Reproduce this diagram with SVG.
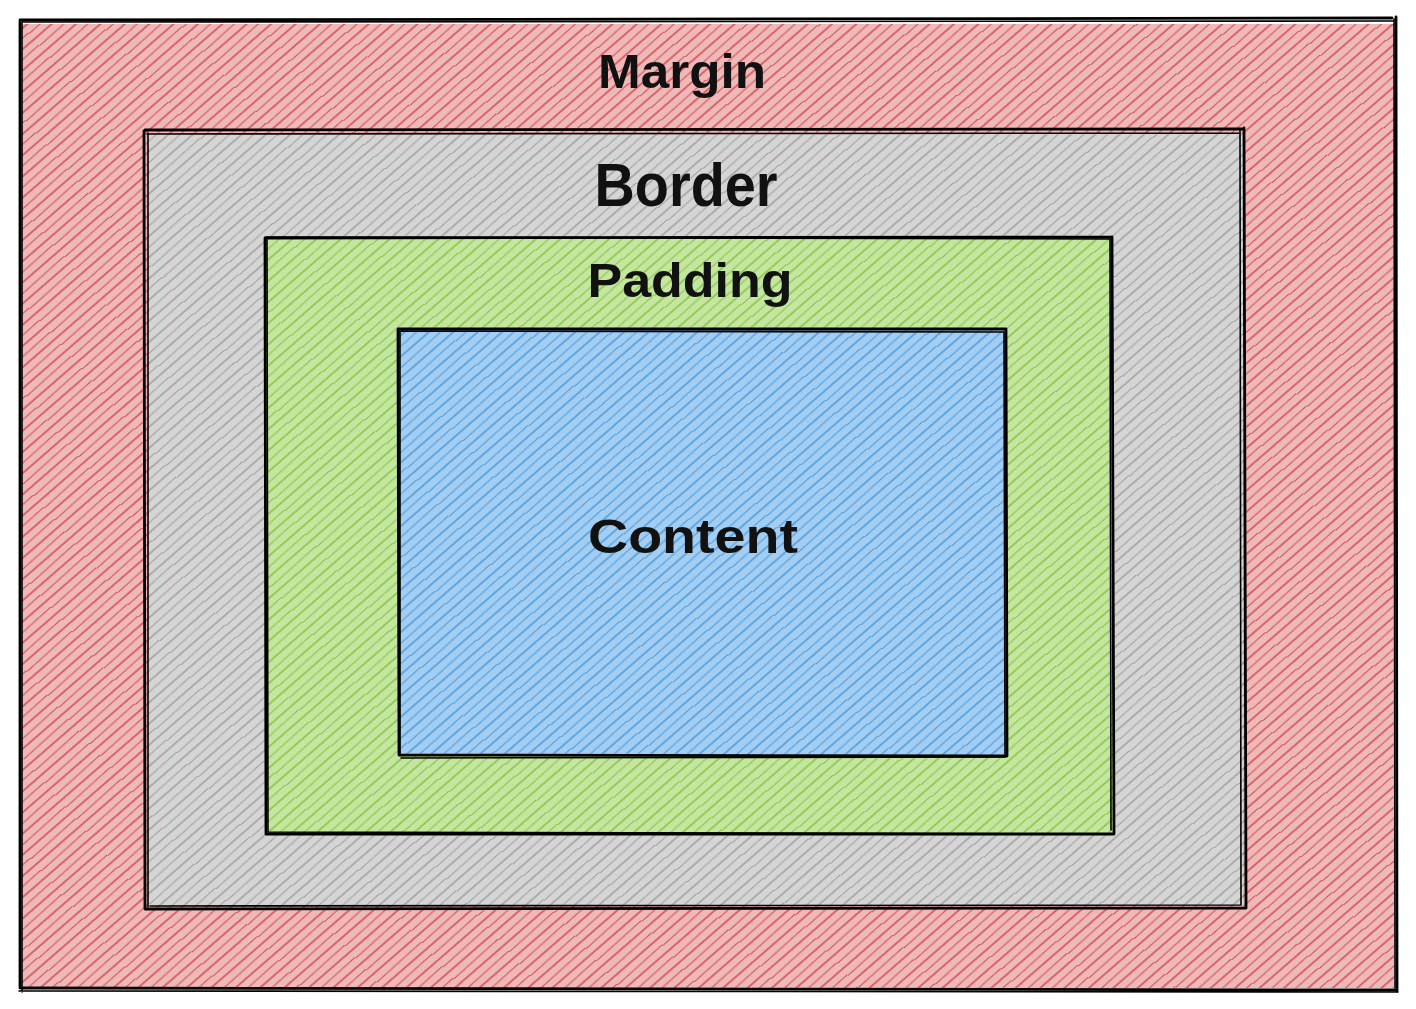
<svg xmlns="http://www.w3.org/2000/svg" width="1416" height="1009" viewBox="0 0 1416 1009">
  <defs>
    <!-- hachure fills: light tint plus diagonal strokes -->
    <pattern id="hatch-red" patternUnits="userSpaceOnUse" width="60" height="16" patternTransform="rotate(-41)">
      <rect width="60" height="16" fill="#efb9b9"/>
      <line x1="0" y1="4" x2="60" y2="4" stroke="#d4484a" stroke-width="1.4"/>
      <line x1="0" y1="12.5" x2="60" y2="11.5" stroke="#d4484a" stroke-width="1.1"/>
    </pattern>
    <pattern id="hatch-gray" patternUnits="userSpaceOnUse" width="60" height="16" patternTransform="rotate(-41)">
      <rect width="60" height="16" fill="#d5d5d5"/>
      <line x1="0" y1="4" x2="60" y2="4" stroke="#9e9e9e" stroke-width="1.4"/>
      <line x1="0" y1="12.5" x2="60" y2="11.5" stroke="#9e9e9e" stroke-width="1.1"/>
    </pattern>
    <pattern id="hatch-green" patternUnits="userSpaceOnUse" width="60" height="16" patternTransform="rotate(-41)">
      <rect width="60" height="16" fill="#c4e6a0"/>
      <line x1="0" y1="4" x2="60" y2="4" stroke="#84c43c" stroke-width="1.4"/>
      <line x1="0" y1="12.5" x2="60" y2="11.5" stroke="#84c43c" stroke-width="1.1"/>
    </pattern>
    <pattern id="hatch-blue" patternUnits="userSpaceOnUse" width="60" height="16" patternTransform="rotate(-41)">
      <rect width="60" height="16" fill="#a3cdf1"/>
      <line x1="0" y1="4" x2="60" y2="4" stroke="#479be2" stroke-width="1.4"/>
      <line x1="0" y1="12.5" x2="60" y2="11.5" stroke="#479be2" stroke-width="1.1"/>
    </pattern>
  </defs>
  <style>
    .edge { fill: none; stroke: #000; stroke-width: 2.8; stroke-linecap: round; stroke-linejoin: round; }
    .edge2 { fill: none; stroke: #000; stroke-width: 1.6; stroke-linecap: round; }
    .label { font-family: "Liberation Sans", "Noto Sans", sans-serif; font-weight: bold; fill: #111; text-anchor: middle; }
  </style>

  <rect width="1416" height="1009" fill="#ffffff"/>

  <g id="margin">
    <rect x="22" y="24" width="1372" height="964" fill="url(#hatch-red)"/>
    <path class="edge" d="M20 20 L1392 18 M1396 17 L1397 991 M1396 990 L22 988 M20 988 L20 21"/>
    <path class="edge2" d="M22 22 L1395 21 M1394 19 L1395 988 M1398 992 L19 991 M22 992 L22 23"/>
    <text class="label" x="682" y="88" font-size="48" textLength="168" lengthAdjust="spacingAndGlyphs">Margin</text>
  </g>

  <g id="border">
    <rect x="147" y="133" width="1096" height="773" fill="url(#hatch-gray)"/>
    <path class="edge" d="M145 130 L1242 129 M1244 128 L1246 908 M1246 908 L146 909 M145 909 L144 131"/>
    <path class="edge2" d="M147 134 L1240 133 M1240 130 L1241 905 M1241 905 L150 906 M148 907 L148 133"/>
    <text class="label" x="686" y="206" font-size="62" textLength="183" lengthAdjust="spacingAndGlyphs">Border</text>
  </g>

  <g id="padding">
    <rect x="266" y="240" width="847" height="593" fill="url(#hatch-green)"/>
    <path class="edge" d="M265 238 L1112 237 M1112 237 L1114 834 M1114 834 L266 834 M266 834 L265 239"/>
    <path class="edge2" d="M266 237 L1110 239 M1110 239 L1111 830 M1113 834 L268 832 M268 832 L267 240"/>
    <text class="label" x="690" y="297" font-size="48" textLength="205" lengthAdjust="spacingAndGlyphs">Padding</text>
  </g>

  <g id="content">
    <rect x="399" y="330" width="608" height="425" fill="url(#hatch-blue)"/>
    <path class="edge" d="M398 329 L1006 329 M1006 329 L1007 756 M1007 756 L399 755 M399 755 L398 330"/>
    <path class="edge2" d="M400 331 L1004 332 M1004 332 L1005 754 M1005 757 L401 758 M400 754 L400 331"/>
    <text class="label" x="693" y="553" font-size="48" textLength="210" lengthAdjust="spacingAndGlyphs">Content</text>
  </g>

  <g id="connectors"></g>
</svg>
